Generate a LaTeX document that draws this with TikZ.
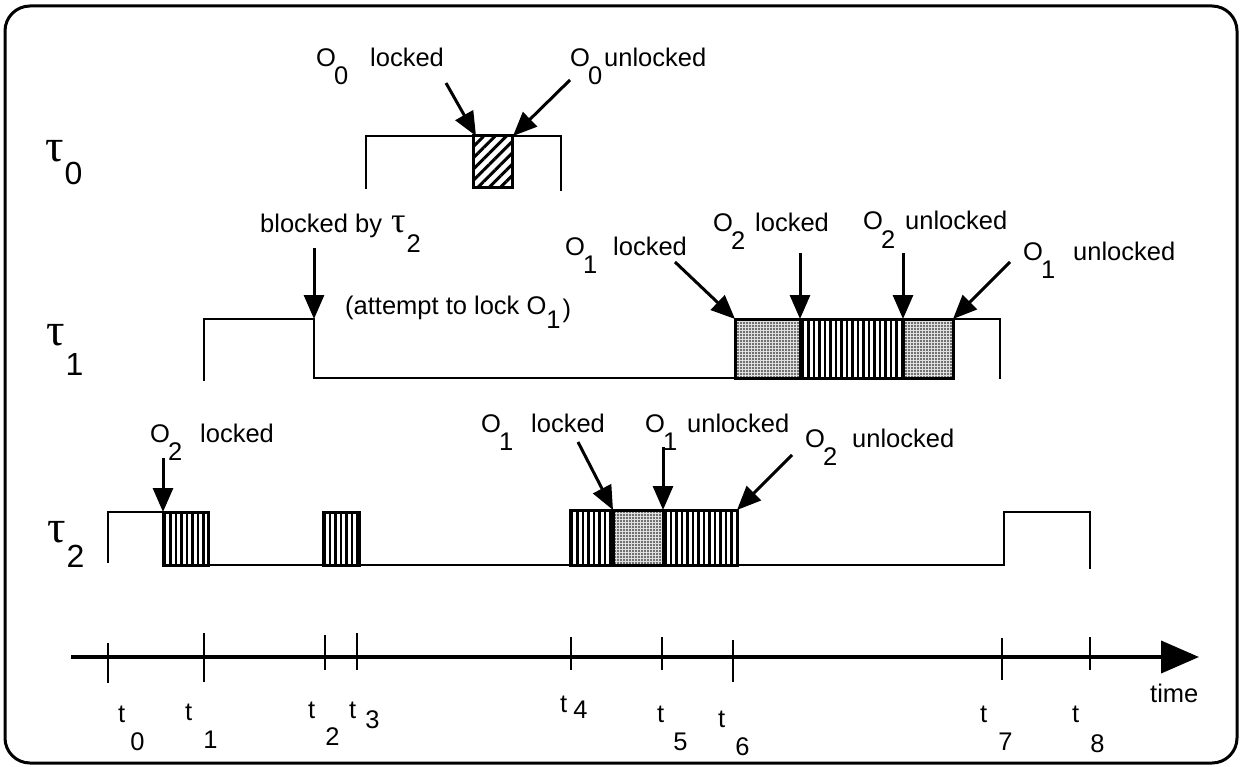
\documentclass[tikz,border=0pt]{standalone}
\usepackage{fontspec}
\setmainfont{Liberation Sans}
\newfontfamily\taufont{Liberation Serif}
\usetikzlibrary{arrows.meta,patterns.meta}
\newcommand\lf{\fontsize{25.5}{30}\selectfont}
\newcommand\dn[2]{\raisebox{-#1pt}{#2}}
\newcommand\Ol[3]{O\kern-2pt\dn{18}{#1}\hspace{#2pt}#3}
\newcommand\tl[4]{t\kern#2pt\dn{#3}{#1}}
\newcommand\taul[2]{{\fontsize{46}{50}\selectfont\taufont τ}\kern1pt\dn{#2}{\fontsize{32}{36}\selectfont #1}}
\begin{document}
\begin{tikzpicture}[x=1pt,y=-1pt,
  sig/.style={line width=2.6pt, line join=miter, line cap=rect},
  boxo/.style={line width=3pt},
  vl/.style={pattern={Lines[angle=90,distance=5.5pt,line width=2.6pt]}},
  hatch/.style={pattern={Lines[angle=45,distance=8pt,line width=3pt]}},
  stip/.style={fill=black!12, postaction={pattern={Dots[distance=3pt,radius=0.85pt]}}},
  arr/.style={line width=3pt, -{Triangle[length=24pt,width=20pt]}},
  lbl/.style={font=\lf, inner sep=0pt, anchor=base west},
  tick/.style={line width=2pt},
]
\useasboundingbox (0,0) rectangle (1241,767);
\draw[line width=3pt, rounded corners=25pt] (5,6) rectangle (1237,763);

% ---------- tau labels
\node[lbl] (tau0) at (45,162) {\taul{0}{23}};
\node[lbl] (tau1) at (46,345) {\taul{1}{30}};
\node[lbl] (tau2) at (47,542) {\taul{2}{25}};

% ---------- tau0 row
\draw[sig] (366,188) -- (366,136) -- (561,136) -- (561,190);
\draw[boxo,hatch] (473,136) rectangle (512,188);
\node[lbl] (l01) at (316,67) {\Ol{0}{22}{locked}};
\node[lbl] (l02) at (570,67) {\Ol{0}{2}{unlocked}};
\coordinate (a01s) at (446,83); \coordinate (a01e) at (476,136);
\coordinate (a02s) at (570,80); \coordinate (a02e) at (513,136);
\draw[arr] (a01s) -- (a01e);
\draw[arr] (a02s) -- (a02e);

% ---------- tau1 row
\draw[sig] (204,380) -- (204,319) -- (314,319) -- (314,378) -- (735,378);
\draw[sig] (953,319) -- (1000,319) -- (1000,378);
\draw[boxo,stip] (735,319) rectangle (800,378);
\draw[boxo,vl] (800,319) rectangle (903,378);
\draw[boxo,stip] (903,319) rectangle (953,378);
\node[lbl] (lb) at (260,233) {blocked by\hspace{9pt}{\fontsize{36}{40}\selectfont\taufont τ}\kern1pt\dn{20}{2}};
\node[lbl] (lat) at (345,314) {(attempt to lock O\dn{14}{1}\kern2pt\dn{3}{)}};
\node[lbl] (l11) at (565,255) {\Ol{1}{16}{locked}};
\node[lbl] (l12) at (713,232) {\Ol{2}{10}{locked}};
\node[lbl] (l13) at (863,230) {\Ol{2}{10}{unlocked}};
\node[lbl] (l14) at (1023,260) {\Ol{1}{18}{unlocked}};
\coordinate (b1s) at (314,248); \coordinate (b1e) at (314,319);
\coordinate (a11s) at (675,262); \coordinate (a11e) at (735,319);
\coordinate (a12s) at (800,253); \coordinate (a12e) at (800,319);
\coordinate (a13s) at (903,253); \coordinate (a13e) at (903,319);
\coordinate (a14s) at (1010,262); \coordinate (a14e) at (953,319);
\draw[arr] (b1s) -- (b1e);
\draw[arr] (a11s) -- (a11e);
\draw[arr] (a12s) -- (a12e);
\draw[arr] (a13s) -- (a13e);
\draw[arr] (a14s) -- (a14e);

% ---------- tau2 row
\draw[sig] (108,562) -- (108,512) -- (163,512);
\draw[sig] (163,565) -- (1004,565) -- (1004,512) -- (1090,512) -- (1090,568);
\draw[boxo,vl] (163,512) rectangle (208,565);
\draw[boxo,vl] (323,512) rectangle (359,565);
\draw[boxo,vl] (570,510) rectangle (613,565);
\draw[boxo,stip] (613,510) rectangle (663,565);
\draw[boxo,vl] (663,510) rectangle (737,565);
\node[lbl] (l21) at (150,442) {\Ol{2}{18}{locked}};
\node[lbl] (l22) at (481,432) {\Ol{1}{18}{locked}};
\node[lbl] (l23) at (645,432) {\Ol{1}{10}{unlocked}};
\node[lbl] (l24) at (805,447) {\Ol{2}{15}{unlocked}};
\coordinate (a21s) at (163,458); \coordinate (a21e) at (163,512);
\coordinate (a22s) at (578,442); \coordinate (a22e) at (613,510);
\coordinate (a23s) at (663,447); \coordinate (a23e) at (663,510);
\coordinate (a24s) at (792,455); \coordinate (a24e) at (737,510);
\draw[arr] (a21s) -- (a21e);
\draw[arr] (a22s) -- (a22e);
\draw[arr] (a23s) -- (a23e);
\draw[arr] (a24s) -- (a24e);

% ---------- time axis
\coordinate (ax0) at (71,657); \coordinate (ax1) at (1199,657);
\draw[line width=4pt, -{Triangle[length=38pt,width=32pt]}] (ax0) -- (ax1);
\draw[tick] (108,643) -- (108,683);
\draw[tick] (204,633) -- (204,682);
\draw[tick] (325,635) -- (325,670);
\draw[tick] (357,633) -- (357,670);
\draw[tick] (571,637) -- (571,670);
\draw[tick] (662,637) -- (662,670);
\draw[tick] (733,640) -- (733,682);
\draw[tick] (1002,638) -- (1002,680);
\draw[tick] (1090,637) -- (1090,670);
\node[lbl] (t0) at (118,722) {\tl{0}{5}{28}{}};
\node[lbl] (t1) at (185,720) {\tl{1}{11}{28}{}};
\node[lbl] (t2) at (308,718) {\tl{2}{10}{27}{}};
\node[lbl] (t3) at (349,718) {\tl{3}{9}{10}{}};
\node[lbl] (t4) at (560,712) {\tl{4}{6}{6}{}};
\node[lbl] (t5) at (657,722) {\tl{5}{9}{28}{}};
\node[lbl] (t6) at (718,727) {\tl{6}{10}{28}{}};
\node[lbl] (t7) at (980,722) {\tl{7}{11}{28}{}};
\node[lbl] (t8) at (1072,722) {\tl{8}{11}{30}{}};
\node[lbl] (time) at (1150,702) {time};
\end{tikzpicture}
\end{document}
